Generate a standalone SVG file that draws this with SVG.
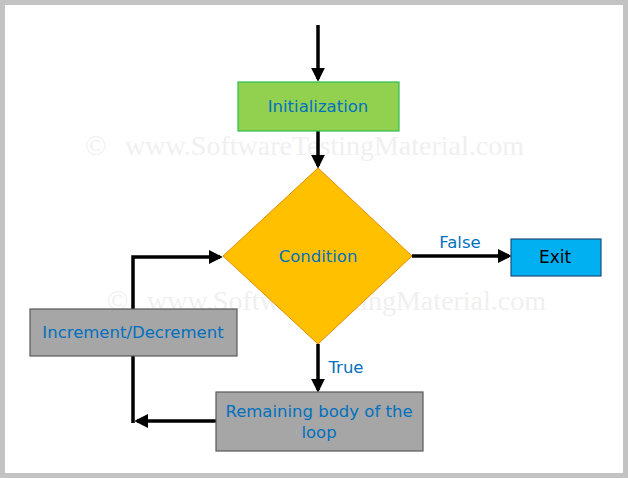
<svg xmlns="http://www.w3.org/2000/svg" width="628" height="478" viewBox="0 0 628 478">
<defs>
<marker id="ah" markerWidth="4" markerHeight="4" refX="3.2" refY="2" orient="auto" markerUnits="strokeWidth">
<path d="M0,0 L4,2 L0,4 Z" fill="#000"/>
</marker>
<style>
.lbl{font-family:"DejaVu Sans",Verdana,sans-serif;font-size:16.5px;fill:#0070c0;text-anchor:middle;dominant-baseline:central}
.wm{font-family:"Liberation Serif","DejaVu Serif",serif;font-size:28px;fill:#f0f0f0}
.ln{stroke:#000;stroke-width:3.5;fill:none}
</style>
</defs>
<rect x="0" y="0" width="628" height="478" fill="#fff"/>
<rect x="2.5" y="2.5" width="623" height="473" fill="none" stroke="#c3c3c3" stroke-width="5"/>
<text class="wm" x="85" y="155">©</text>
<text class="wm" x="125" y="155">www.SoftwareTestingMaterial.com</text>
<text class="wm" x="107" y="310">©</text>
<text class="wm" x="147" y="310">www.SoftwareTestingMaterial.com</text>
<g id="connectors">
<path class="ln" d="M318,25 V79" marker-end="url(#ah)"/>
<path class="ln" d="M318,131 V166" marker-end="url(#ah)"/>
<path class="ln" d="M412,256 H509" marker-end="url(#ah)"/>
<path class="ln" d="M318,344 V390" marker-end="url(#ah)"/>
<path class="ln" d="M216,421 H137" marker-end="url(#ah)"/>
<path class="ln" d="M133,356 V423"/>
<path class="ln" d="M133,309 V257 H220" marker-end="url(#ah)"/>
<text class="lbl" x="460" y="242">False</text>
<text class="lbl" x="346" y="367">True</text>
</g>
<g id="init">
<rect x="238" y="82" width="161" height="49" fill="#92d050" stroke="#2fbf4f" stroke-width="1.2"/>
<text class="lbl" x="318" y="106">Initialization</text>
</g>
<g id="condition">
<path d="M318,168 L412,256 L318,344 L223,256 Z" fill="#ffc000" stroke="#e88a00" stroke-width="1"/>
<text class="lbl" x="318" y="256">Condition</text>
</g>
<g id="exit">
<rect x="511" y="239" width="90" height="37" fill="#00b0f0" stroke="#1f4e79" stroke-width="1.2"/>
<text class="lbl" x="555" y="257" style="fill:#000;font-size:17px">Exit</text>
</g>
<g id="body">
<rect x="216" y="392" width="207" height="59" fill="#a6a6a6" stroke="#595959" stroke-width="1.2"/>
<text class="lbl" x="319" y="411">Remaining body of the</text>
<text class="lbl" x="319" y="432">loop</text>
</g>
<g id="increment">
<rect x="30" y="309" width="207" height="47" fill="#a6a6a6" stroke="#595959" stroke-width="1.2"/>
<text class="lbl" x="133" y="332">Increment/Decrement</text>
</g>
</svg>
